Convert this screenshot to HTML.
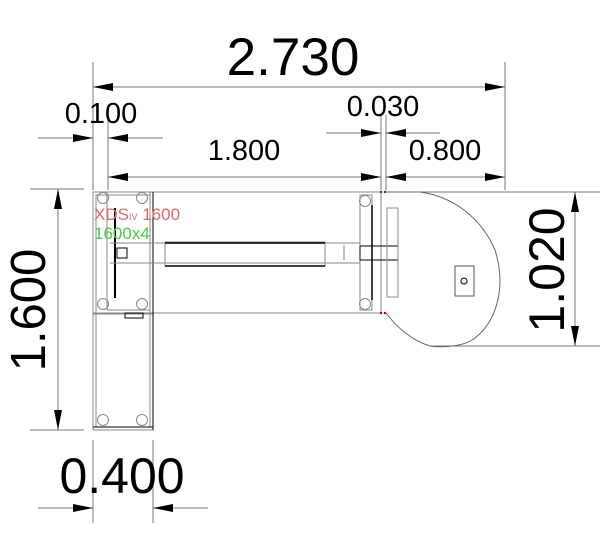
<!DOCTYPE html>
<html><head><meta charset="utf-8"><style>
html,body{margin:0;padding:0;background:#fff;}
svg{display:block;}
text{font-family:"Liberation Sans",sans-serif;fill:#000;}
</style></head><body>
<svg width="600" height="535" viewBox="0 0 600 535" xmlns="http://www.w3.org/2000/svg">
<defs>
<marker id="a" viewBox="0 0 10 4" refX="10" refY="2" markerWidth="24" markerHeight="8" markerUnits="userSpaceOnUse" orient="auto-start-reverse"><path d="M0,0 L10,2 L0,4 Z" fill="#000"/></marker>
</defs>
<g stroke="#777" stroke-width="1" fill="none">
<line x1="93" y1="62" x2="93" y2="190"/>
<line x1="505" y1="62" x2="505" y2="190"/>
<line x1="108" y1="118" x2="108" y2="190"/>
<line x1="381" y1="115" x2="381" y2="190"/>
<line x1="386" y1="115" x2="386" y2="190"/>
<line x1="30" y1="189" x2="84" y2="189"/>
<line x1="30" y1="430" x2="84" y2="430"/>
<line x1="386" y1="192" x2="600" y2="192"/>
<line x1="430" y1="346" x2="600" y2="346"/>
<line x1="93" y1="440" x2="93" y2="523"/>
<line x1="153" y1="440" x2="153" y2="523"/>
<line x1="93" y1="87" x2="505" y2="87" marker-start="url(#a)" marker-end="url(#a)"/>
<line x1="108" y1="177" x2="381" y2="177" marker-start="url(#a)" marker-end="url(#a)"/>
<line x1="386" y1="177" x2="505" y2="177" marker-start="url(#a)" marker-end="url(#a)"/>
<line x1="38" y1="138" x2="93" y2="138" marker-end="url(#a)"/>
<line x1="163" y1="138" x2="108" y2="138" marker-end="url(#a)"/>
<line x1="326" y1="133" x2="381" y2="133" marker-end="url(#a)"/>
<line x1="440" y1="133" x2="386" y2="133" marker-end="url(#a)"/>
<line x1="58" y1="189" x2="58" y2="430" marker-start="url(#a)" marker-end="url(#a)"/>
<line x1="575" y1="192" x2="575" y2="346" marker-start="url(#a)" marker-end="url(#a)"/>
<line x1="38" y1="508" x2="93" y2="508" marker-end="url(#a)"/>
<line x1="208" y1="508" x2="153" y2="508" marker-end="url(#a)"/>
</g>
<g stroke="#888" stroke-width="1" fill="none">
<rect x="93" y="192" width="288" height="121"/>
<rect x="93" y="192" width="60" height="238"/>
<rect x="96" y="195" width="54" height="232"/>
<rect x="107" y="192" width="43" height="118"/>
<line x1="93" y1="314" x2="153" y2="314"/>
<line x1="153" y1="192" x2="153" y2="430" stroke="#000"/>
<line x1="93" y1="427" x2="153" y2="427" stroke="#000"/>
<circle cx="103" cy="198" r="5.5"/><circle cx="142" cy="198" r="5.5"/>
<circle cx="103" cy="304" r="5.5"/><circle cx="142" cy="304" r="5.5"/>
<circle cx="103" cy="420" r="5.5"/><circle cx="142" cy="420" r="5.5"/>
<line x1="115" y1="208" x2="115" y2="298" stroke="#000" stroke-width="2"/>
<rect x="117" y="248" width="10" height="10" stroke="#000"/>
<rect x="125" y="313" width="18" height="5" stroke="#000"/>
<line x1="110" y1="243" x2="360" y2="243"/>
<line x1="110" y1="263" x2="360" y2="263"/>
<rect x="165" y="242" width="160" height="24"/>
<line x1="165" y1="243" x2="325" y2="243" stroke="#000" stroke-width="1.5"/>
<line x1="165" y1="266" x2="325" y2="266" stroke="#000" stroke-width="1.5"/>
<line x1="344" y1="245" x2="344" y2="260"/>
<rect x="360" y="195" width="12" height="115"/>
<line x1="372" y1="205" x2="372" y2="300" stroke="#000" stroke-width="1.5"/>
<circle cx="365" cy="201" r="5.5"/><circle cx="365" cy="304" r="5.5"/>
<rect x="360" y="246" width="38" height="14" stroke="#000"/>
<rect x="387" y="208" width="11" height="89"/>
<path d="M386,192 L420,192 C450,196 480,215 495,250 C506,285 498,320 475,338 C465,346 445,348 430,346 C410,340 395,325 386,313" stroke="#666"/>
<rect x="455" y="266" width="19" height="30" stroke="#555"/>
<circle cx="464" cy="281" r="3" stroke="#000"/>
</g>
<g fill="#c00"><circle cx="381" cy="192" r="1.2"/><circle cx="385" cy="192" r="1.2"/><circle cx="381" cy="313" r="1.2"/><circle cx="385" cy="313" r="1.2"/></g>
<text x="94" y="220" font-size="17" style="fill:#d66">XDS<tspan font-size="9">IV</tspan> 1600</text>
<text x="94" y="239" font-size="17" style="fill:#4c4">1600x4</text>
<text x="293" y="75" font-size="53" text-anchor="middle">2.730</text>
<text x="101" y="123" font-size="29" text-anchor="middle">0.100</text>
<text x="244" y="160" font-size="29" text-anchor="middle">1.800</text>
<text x="383" y="116" font-size="29" text-anchor="middle">0.030</text>
<text x="445" y="160" font-size="29" text-anchor="middle">0.800</text>
<text x="122" y="493" font-size="50" text-anchor="middle">0.400</text>
<text transform="translate(45,310) rotate(-90)" font-size="49" text-anchor="middle">1.600</text>
<text transform="translate(564,270) rotate(-90)" font-size="50" text-anchor="middle">1.020</text>
</svg>
</body></html>
